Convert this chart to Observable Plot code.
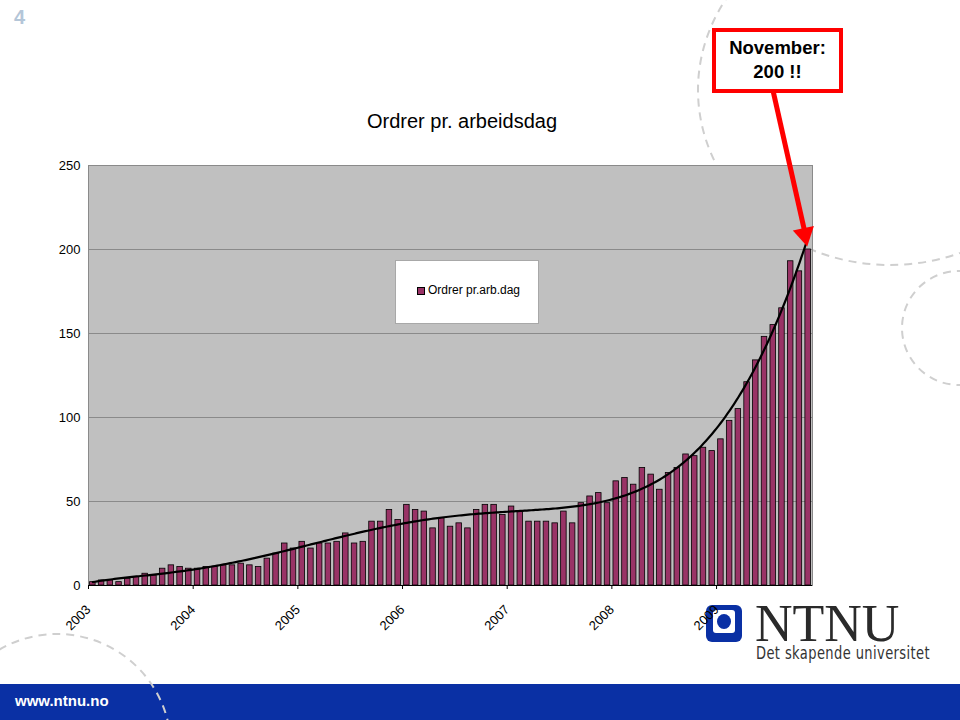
<!DOCTYPE html>
<html>
<head>
<meta charset="utf-8">
<script src="https://cdn.jsdelivr.net/npm/d3@7"></script>
<script src="https://cdn.jsdelivr.net/npm/@observablehq/plot@0.6"></script>
<style>
  html, body { margin: 0; padding: 0; background: #fff; }
  #page { position: relative; width: 960px; height: 720px; overflow: hidden; font-family: "Liberation Sans", Arial, sans-serif; }
  #footer { position: absolute; left: 0; top: 684px; width: 960px; height: 36px; background: #0a30a4; }
  #footer span { position: absolute; left: 15px; top: 8px; color: #fff; font-weight: bold; font-size: 15px; }
  #deco { position: absolute; left: 0; top: 0; }
  #chart { position: absolute; left: 0; top: 0; }
  #pnum { position: absolute; left: 14px; top: 6px; color: #b4c6d8; font-weight: bold; font-size: 20px; }
  #title { position: absolute; left: 262px; width: 400px; top: 110px; text-align: center; font-size: 20px; color: #000; }
  #callout { position: absolute; left: 712px; top: 28px; width: 123px; height: 53px; border: 4px solid #f00; background: #fff;
             text-align: center; font-weight: bold; font-size: 18.5px; line-height: 24px; padding-top: 4px; box-sizing: content-box; }
  #callout div { height: 24px; }
  #legend { position: absolute; left: 395px; top: 260px; width: 142px; height: 62px; background: #fff; border: 1px solid #a8a8a8; }
  #legend .sw { position: absolute; left: 21px; top: 26px; width: 6px; height: 6px; background: #993366; border: 1px solid #000; }
  #legend .lt { position: absolute; left: 32px; top: 22px; font-size: 12px; color: #000; }
  #logoicon { position: absolute; left: 706px; top: 605px; width: 36px; height: 37px; background: #0a30a4; border-radius: 6px; }
  #logoicon .in { position: absolute; left: 7px; top: 5px; width: 22px; height: 23px; background: #fff; border-radius: 3px; }
  #logoicon .dot { position: absolute; left: 4px; top: 4px; width: 14px; height: 15px; background: #0a30a4; border-radius: 50%; }
  #ntnu { position: absolute; left: 755px; top: 606px; font-family: "Liberation Serif", "DejaVu Serif", serif; font-size: 52px; line-height: 36px; color: #2a2a2a; white-space: nowrap; }
  #slogan { position: absolute; left: 756px; top: 644px; font-family: "DejaVu Sans Condensed", "DejaVu Sans", sans-serif; font-size: 18px; line-height: 18px; color: #333;
            white-space: nowrap; transform-origin: 0 0; letter-spacing: 0.5px; }
</style>
</head>
<body>
<div id="page">
  <div id="footer"><span>www.ntnu.no</span></div>
  <svg id="deco" width="960" height="720">
    <g fill="none" stroke="#cfcfcf" stroke-width="2" stroke-dasharray="8 6">
      <ellipse cx="890" cy="90" rx="192" ry="175"></ellipse>
      <circle cx="959" cy="328" r="57"></circle>
      <circle cx="57" cy="748" r="114"></circle>
    </g>
  </svg>
  <div id="logoicon"><div class="in"><div class="dot"></div></div></div>
  <div id="ntnu">NTNU</div>
  <div id="slogan">Det skapende universitet</div>
  <div id="chart"></div>
  <div id="pnum">4</div>
  <div id="title">Ordrer pr. arbeidsdag</div>
  <div id="callout"><div>November:</div><div>200 !!</div></div>
  <div id="legend"><span class="sw"></span><span class="lt">Ordrer pr.arb.dag</span></div>
</div>
<script>
// Orders per working day, monthly, Jan 2003 – Nov 2009
const values = [
  2, 3, 3, 2, 4, 5, 7, 6, 10, 12, 11, 10,          // 2003
  10, 11, 11, 12, 12, 13, 12, 11, 16, 19, 25, 22,  // 2004
  26, 22, 25, 25, 26, 31, 25, 26, 38, 38, 45, 39,  // 2005
  48, 45, 44, 34, 40, 35, 37, 34, 45, 48, 48, 42,  // 2006
  47, 44, 38, 38, 38, 37, 44, 37, 49, 53, 55, 49,  // 2007
  62, 64, 60, 70, 66, 57, 67, 70, 78, 77, 82, 80,  // 2008
  87, 98, 105, 121, 134, 148, 155, 165, 193, 187, 200 // 2009
];
const yearLabels = ["2003", "2004", "2005", "2006", "2007", "2008", "2009"];
const yTicks = [0, 50, 100, 150, 200, 250];
const seriesName = "Ordrer pr.arb.dag";
const calloutTail = {x: 78, y: 294}; // where the red arrow leaves the callout box

const data = values.map((v, i) => ({i, v}));

// polynomial (order 6) trend line, least squares, as in the spreadsheet
function polyfit(xs, ys, deg) {
  const n = deg + 1;
  const A = Array.from({length: n}, () => new Array(n + 1).fill(0));
  for (let k = 0; k < xs.length; k++) {
    const p = [1];
    for (let j = 1; j < 2 * n; j++) p.push(p[j - 1] * xs[k]);
    for (let r = 0; r < n; r++) {
      for (let c = 0; c < n; c++) A[r][c] += p[r + c];
      A[r][n] += p[r] * ys[k];
    }
  }
  for (let i = 0; i < n; i++) {
    let m = i;
    for (let r = i + 1; r < n; r++) if (Math.abs(A[r][i]) > Math.abs(A[m][i])) m = r;
    [A[i], A[m]] = [A[m], A[i]];
    for (let r = 0; r < n; r++) {
      if (r === i) continue;
      const f = A[r][i] / A[i][i];
      for (let c = i; c <= n; c++) A[r][c] -= f * A[i][c];
    }
  }
  return A.map((row, i) => row[n] / row[i]);
}
const N = values.length;
const mid = (N - 1) / 2;
const norm = i => (i - mid) / mid;
const coef = polyfit(data.map(d => norm(d.i)), values, 6);
const evalPoly = t => coef.reduce((s, c, k) => s + c * Math.pow(t, k), 0);
const trend = [];
for (let x = 0; x <= N - 1 + 1e-9; x += 0.25) trend.push({x, y: evalPoly(norm(x))});

const yearTicks = yearLabels.map((_, k) => k * 12 - 0.5);
const last = data[N - 1];
const tip = {x: last.i - 0.3, y: last.v + 4};

const chart = Plot.plot({
  width: 960,
  height: 640,
  marginLeft: 88,
  marginRight: 148,
  marginTop: 165,
  marginBottom: 55,
  style: {background: "transparent", fontFamily: '"Liberation Sans", Arial, sans-serif', fontSize: "13px", color: "#000", overflow: "visible"},
  x: {domain: [-0.5, N - 0.5], axis: null, label: null},
  y: {domain: [0, 250], axis: null, label: null},
  marks: [
    Plot.frame({fill: "#c0c0c0", stroke: "#8a8a8a"}),
    Plot.gridY(yTicks.filter(t => t > 0 && t < 250), {stroke: "#8a8a8a", strokeOpacity: 1}),
    Plot.rect(data, {x1: d => d.i - 0.5, x2: d => d.i + 0.5, y1: 0, y2: "v", insetLeft: 1.6, insetRight: 1.6,
      fill: "#993366", stroke: "#000", strokeWidth: 0.8, title: d => `${seriesName}: ${d.v}`}),
    Plot.line(trend, {x: "x", y: "y", stroke: "#000", strokeWidth: 2.2}),
    Plot.ruleY([0], {stroke: "#000"}),
    Plot.axisY(yTicks, {tickSize: 0, tickPadding: 8, fontSize: 13, label: null}),
    Plot.axisX(yearTicks, {tickSize: 4, tickPadding: 18, fontSize: 13, tickRotate: -45, label: null,
      tickFormat: t => yearLabels[Math.round((t + 0.5) / 12)]}),
    Plot.link([0], {x1: calloutTail.x, y1: calloutTail.y, x2: tip.x - 0.15, y2: tip.y + 8, stroke: "#f00", strokeWidth: 5}),
    Plot.dot([0], {x: tip.x - 0.1, y: tip.y + 5, symbol: "triangle", r: 8, fill: "#f00", stroke: "none", rotate: 168})
  ]
});
document.getElementById("chart").appendChild(chart);

// fit the slogan to the logo's width
const slogan = document.getElementById("slogan");
const w = slogan.getBoundingClientRect().width;
if (w > 0) slogan.style.transform = `scaleX(${174 / w})`;
</script>
</body>
</html>
